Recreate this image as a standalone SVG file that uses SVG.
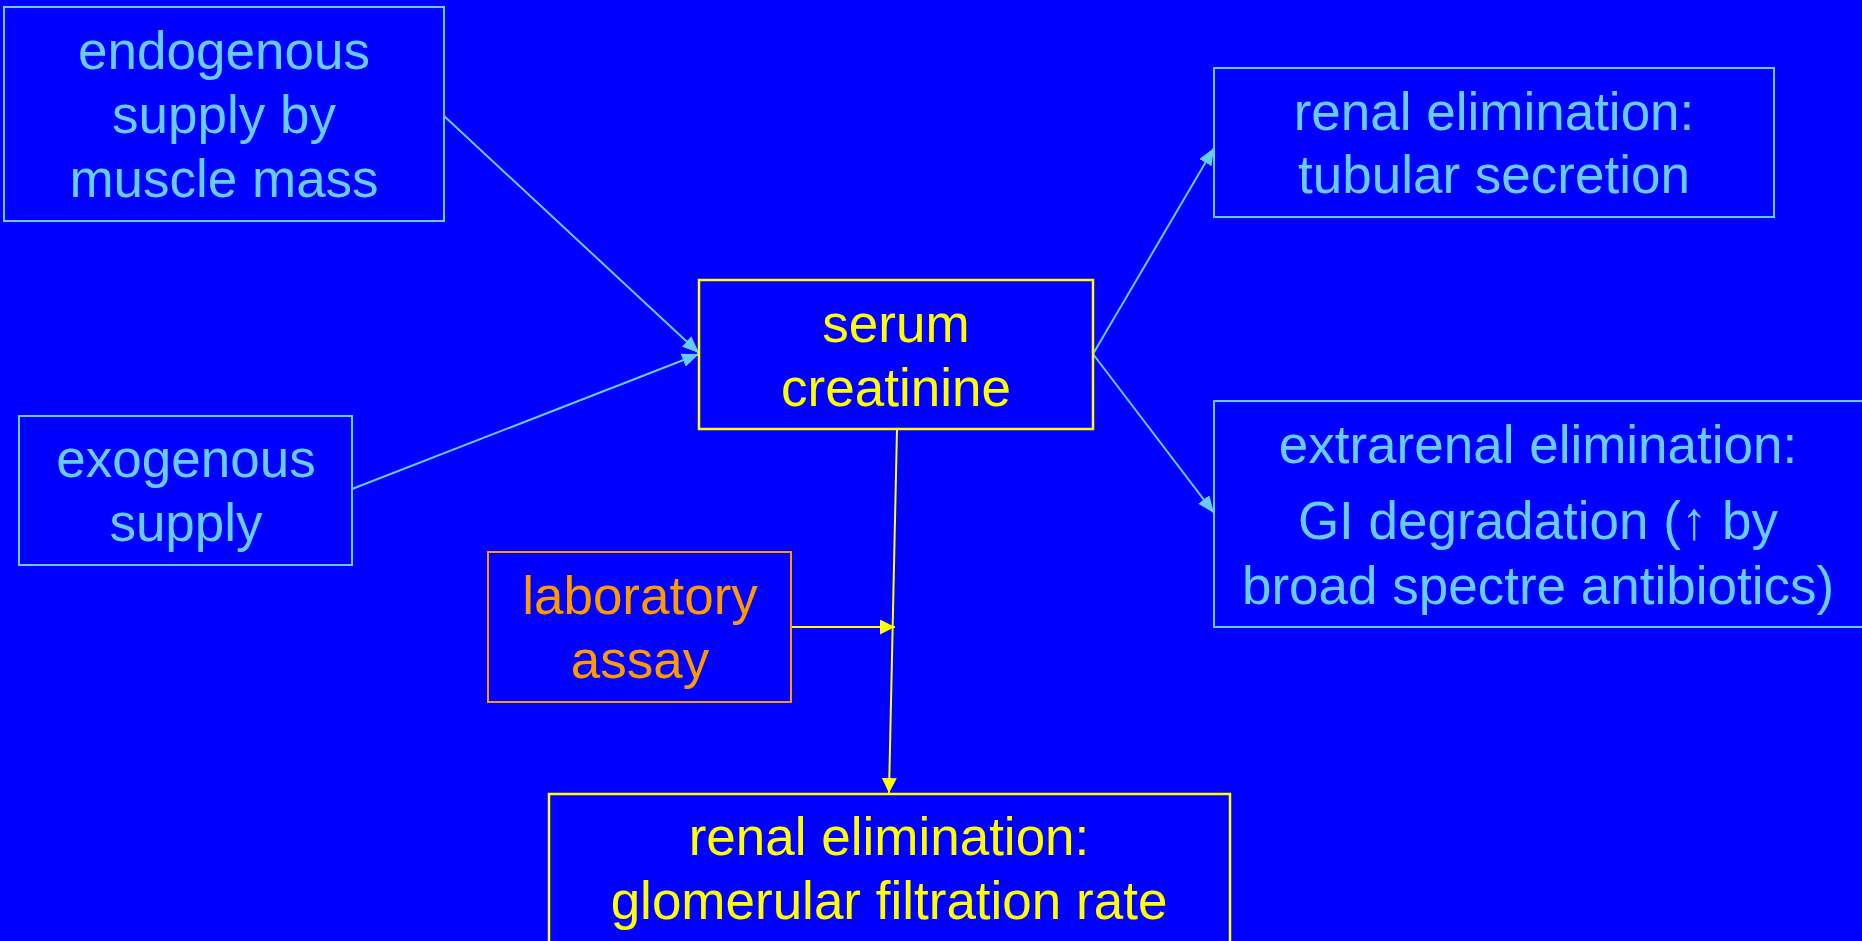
<svg xmlns="http://www.w3.org/2000/svg" width="1862" height="941" viewBox="0 0 1862 941">
<style>
text{font-family:"Liberation Sans",Arial,sans-serif;font-size:53px;text-anchor:middle}
.b{fill:#0000FF;stroke:#66CCFF;stroke-width:2}
.y{fill:#0000FF;stroke:#FFFF00;stroke-width:2.5}
.o{fill:#0000FF;stroke:#FF9900;stroke-width:2}
.tb{fill:#66CCFF}
.ty{fill:#FFFF00}
.to{fill:#FF9900}
.cb{stroke:#66CCFF;stroke-width:2;fill:none;marker-end:url(#ab)}
.cy{stroke:#FFFF00;stroke-width:2;fill:none;marker-end:url(#ay)}
</style>
<defs>
<marker id="ab" viewBox="0 0 17 14" refX="17" refY="7" markerWidth="17" markerHeight="14" markerUnits="userSpaceOnUse" orient="auto"><path d="M0,0 L17,7 L0,14 z" fill="#66CCFF"/></marker>
<marker id="ay" viewBox="0 0 15 15" refX="15" refY="7.5" markerWidth="15" markerHeight="15" markerUnits="userSpaceOnUse" orient="auto"><path d="M0,0 L15,7.5 L0,15 z" fill="#FFFF00"/></marker>
</defs>
<rect x="0" y="0" width="1862" height="941" fill="#0000FF"/>
<g id="connectors">
<line class="cb" x1="443" y1="115" x2="699" y2="353"/>
<line class="cb" x1="352" y1="489" x2="699" y2="354"/>
<line class="cb" x1="1093" y1="354" x2="1214" y2="148"/>
<line class="cb" x1="1093" y1="354" x2="1214" y2="513"/>
<line class="cy" x1="897" y1="429" x2="889" y2="793"/>
<line class="cy" x1="791" y1="627" x2="895" y2="627"/>
</g>
<g id="endogenous">
<rect class="b" x="4" y="7" width="440" height="214"/>
<text class="tb" x="224" y="69">endogenous</text>
<text class="tb" x="224" y="133">supply by</text>
<text class="tb" x="224" y="197">muscle mass</text>
</g>
<g id="exogenous">
<rect class="b" x="19" y="416" width="333" height="149"/>
<text class="tb" x="186" y="477">exogenous</text>
<text class="tb" x="186" y="541">supply</text>
</g>
<g id="serum">
<rect class="y" x="699" y="280" width="394" height="149"/>
<text class="ty" x="896" y="342">serum</text>
<text class="ty" x="896" y="406">creatinine</text>
</g>
<g id="laboratory">
<rect class="o" x="488" y="552" width="303" height="150"/>
<text class="to" x="640" y="614">laboratory</text>
<text class="to" x="640" y="678">assay</text>
</g>
<g id="gfr">
<rect class="y" x="549" y="794" width="681" height="200"/>
<text class="ty" x="889" y="855">renal elimination:</text>
<text class="ty" x="889" y="919">glomerular filtration rate</text>
</g>
<g id="tubular">
<rect class="b" x="1214" y="68" width="560" height="149"/>
<text class="tb" x="1494" y="130">renal elimination:</text>
<text class="tb" x="1494" y="193">tubular secretion</text>
</g>
<g id="extrarenal">
<rect class="b" x="1214" y="401" width="700" height="226"/>
<text class="tb" x="1538" y="463">extrarenal elimination:</text>
<text class="tb" x="1538" y="539">GI degradation (↑ by</text>
<text class="tb" x="1538" y="604">broad spectre antibiotics)</text>
</g>
</svg>
